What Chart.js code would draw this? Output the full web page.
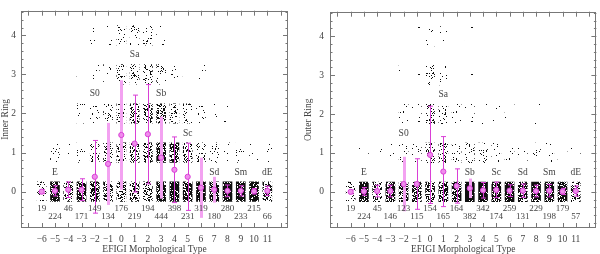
<!DOCTYPE html>
<html><head><meta charset="utf-8">
<script src="https://cdn.jsdelivr.net/npm/chart.js@4/dist/chart.umd.min.js"></script>
<style>
html,body{margin:0;padding:0;background:#fff;}
#wrap{position:relative;width:600px;height:254px;overflow:hidden;}
.c{position:absolute;top:0;width:300px;height:254px;}
</style></head><body>
<div id="wrap">
<div class="c" style="left:0"><canvas id="cL" width="300" height="254"></canvas></div>
<div class="c" style="left:300px"><canvas id="cR" width="300" height="254"></canvas></div>
</div>
<script>
// ---------------- DATA ----------------
const types = [-6,-5,-4,-3,-2,-1,0,1,2,3,4,5,6,7,8,9,10,11];
const ringValues = [0,1,2,3,4];
const yTickValues = [0,1,2,3,4];

// Inner ring: number of galaxies per type for each ring value
const innerRing0 = [19,220,44,160,115,78,52,75,55,195,228,165,292,172,275,229,214,65];
const innerRing1 = [0,4,2,5,20,30,45,60,50,150,128,52,22,7,4,4,1,1];
const innerRing2 = [0,0,0,4,8,16,40,48,45,72,36,12,4,1,1,0,0,0];
const innerRing3 = [0,0,0,2,3,6,25,24,28,21,6,2,1,0,0,0,0,0];
const innerRing4 = [0,0,0,0,3,4,14,12,16,6,0,0,0,0,0,0,0,0];
const innerTotals = [19,224,46,171,149,134,176,219,194,444,398,231,319,180,280,233,215,66];
const innerMean = [0,0.02,0.05,0.05,0.38,0.71,1.45,1.23,1.47,0.87,0.56,0.38,0.10,0.05,0.02,0.02,0.01,0.02];
const innerSD   = [0.05,0.13,0.2,0.28,0.93,1.05,1.4,1.24,1.27,1.05,0.84,0.86,0.77,0.33,0.15,0.13,0.07,0.12];

// Outer ring
const outerRing0 = [19,223,44,144,108,100,80,110,145,355,330,166,253,127,225,193,178,56];
const outerRing1 = [0,1,1,2,8,8,30,30,14,20,10,7,5,4,3,5,1,1];
const outerRing2 = [0,0,0,0,4,5,25,18,5,5,2,1,1,0,1,0,0,0];
const outerRing3 = [0,0,0,0,2,1,15,5,0,1,0,0,0,0,0,0,0,0];
const outerRing4 = [0,0,0,0,1,1,4,2,0,1,0,0,0,0,0,0,0,0];
const outerTotals = [19,224,45,146,123,115,154,165,164,382,342,174,259,131,229,198,179,57];
const outerMean = [0,0.01,0.02,0.02,0.2,0.2,0.95,0.52,0.15,0.09,0.04,0.05,0.03,0.03,0.02,0.03,0.01,0.02];
const outerSD   = [0.05,0.1,0.15,0.15,0.7,0.65,1.25,0.9,0.44,0.25,0.2,0.2,0.15,0.17,0.15,0.16,0.08,0.13];

// Morphological class labels
const morphNames = ['E','S0','Sa','Sb','Sc','Sd','Sm','dE'];
const morphTypes = [-5,-2,1,3,5,7,9,11];
const innerMorphRing = [0.5,2.5,3.5,2.5,1.5,0.5,0.5,0.5];
const outerMorphRing = [0.5,1.5,2.5,0.5,0.5,0.5,0.5,0.5];

// ---------------- STYLE ----------------
const FONT = "'Liberation Serif', 'DejaVu Serif', serif";
const TXT = '#444';
const FRAME = '#777';
const PINK = '#f3a2f1';
const MAG = '#d93fd6';
const innerThick = [-1,0,3,6,7];
const outerThick = [-2,3];

// deterministic dither texture for the point clouds
function hash(i){ let h = Math.imul(i ^ 0x5bd1e995, 0x27d4eb2d); h ^= h>>>15; h = Math.imul(h, 0x85ebca6b); h ^= h>>>13; return h>>>0; }
const patCache = {};
const TW = 53, TH = 47;
const pixOrder = [...Array(TW*TH).keys()].sort((a,b)=>hash(a+7)-hash(b+7));
function cloudPattern(n){
  const f = 1 - Math.exp(-n*1.3/180);
  const lvl = Math.max(1, Math.round(f*96));
  if (patCache[lvl]) return patCache[lvl];
  const c = document.createElement('canvas'); c.width = TW; c.height = TH;
  const g = c.getContext('2d');
  const img = g.createImageData(TW,TH);
  const k = Math.max(1, Math.round(lvl/96*TW*TH));
  for (let i=0;i<k;i++){ const p = pixOrder[i]*4; img.data[p]=img.data[p+1]=img.data[p+2]=15; img.data[p+3]=255; }
  g.putImageData(img,0,0);
  return patCache[lvl] = g.createPattern(c,'repeat');
}
function fmt(v){ return v < 0 ? '\u2212' + Math.abs(v) : String(v); }

function makeChart(id, rings, totals, means, sds, thick, morphRing, yTitle, yW, titlePad, labPad, padL, padR){
  const cloud = [];
  ringValues.forEach((r,ri)=>rings[ri].forEach((n,ti)=>{ if(n>0) cloud.push({x:types[ti], y:[r-0.25, r+0.25], n}); }));
  const meanPts = types.map((t,i)=>({x:t, y:means[i]}));
  const deco = {
    id:'deco',
    afterDatasetDraw(chart, args){
      if (args.index !== 0) return;
      const {ctx, scales:{x,y}} = chart;
      ctx.save();
      types.forEach((t,i)=>{
        const px = Math.round(x.getPixelForValue(t)) + 0.5;
        const y0 = y.getPixelForValue(means[i]-sds[i]), y1 = y.getPixelForValue(means[i]+sds[i]);
        ctx.beginPath();
        if (thick.includes(t)) {
          ctx.strokeStyle = PINK; ctx.lineWidth = 3;
          ctx.moveTo(px,y0); ctx.lineTo(px,y1); ctx.stroke();
        } else {
          ctx.strokeStyle = MAG; ctx.lineWidth = 1;
          ctx.moveTo(px,y0); ctx.lineTo(px,y1);
          ctx.moveTo(px-2.5,y0); ctx.lineTo(px+2.5,y0);
          ctx.moveTo(px-2.5,y1); ctx.lineTo(px+2.5,y1);
          ctx.stroke();
        }
      });
      ctx.restore();
    },
    afterDraw(chart){
      const {ctx, chartArea:a, scales:{x,y}} = chart;
      ctx.save();
      ctx.strokeStyle = FRAME; ctx.lineWidth = 1;
      ctx.strokeRect(Math.round(a.left)+0.5, Math.round(a.top)+0.5, Math.round(a.right-a.left)-1, Math.round(a.bottom-a.top)-1);
      ctx.beginPath();
      for (let v=-7; v<=12; v++){
        const px = Math.round(x.getPixelForValue(v))+0.5;
        ctx.moveTo(px,a.bottom); ctx.lineTo(px,a.bottom-5);
        ctx.moveTo(px,a.top); ctx.lineTo(px,a.top+5);
      }
      for (let k=-4; k<=23; k++){
        const v = k*0.2; if (v < y.min || v > y.max) continue;
        const py = Math.round(y.getPixelForValue(v))+0.5;
        const L = (k%5===0) ? 5 : 2.5;
        ctx.moveTo(a.left,py); ctx.lineTo(a.left+L,py);
        ctx.moveTo(a.right,py); ctx.lineTo(a.right-L,py);
      }
      ctx.stroke();
      ctx.fillStyle = TXT;
      ctx.font = "9px " + FONT;
      ctx.textAlign = 'center'; ctx.textBaseline = 'middle';
      types.forEach((t,i)=>{
        const yy = (i%2===0) ? -0.43 : -0.64;
        ctx.fillText(String(totals[i]), x.getPixelForValue(t), y.getPixelForValue(yy));
      });
      ctx.font = "9.5px " + FONT;
      morphNames.forEach((m,i)=>{
        ctx.fillText(m, x.getPixelForValue(morphTypes[i]), y.getPixelForValue(morphRing[i]));
      });
      ctx.restore();
    }
  };
  return new Chart(document.getElementById(id), {
    type:'scatter',
    data:{ datasets:[
      { type:'bar', data:cloud, order:3, grouped:false, barThickness:9,
        backgroundColor: c => (c.raw ? cloudPattern(c.raw.n) : '#000'), borderWidth:0 },
      { type:'scatter', data:meanPts, order:1, pointRadius:2.6, pointHoverRadius:2.6,
        backgroundColor:'#ef8cec', borderColor:MAG, borderWidth:1 }
    ]},
    options:{
      responsive:false, animation:false, events:[],
      layout:{ padding:{ top:2, right:padR, left:padL, bottom:0 } },
      plugins:{ legend:{display:false}, tooltip:{enabled:false} },
      scales:{
        x:{ type:'linear', min:-7, max:12,
          afterBuildTicks: s => { s.ticks = types.map(v=>({value:v})); },
          afterFit: s => { s.height = 26; },
          grid:{ display:false, drawTicks:false }, border:{ display:false },
          ticks:{ autoSkip:false, maxRotation:0, padding:6, color:TXT, font:{ family:FONT, size:9.5, lineHeight:1.2 }, callback: v => fmt(v) },
          title:{ display:true, text:'EFIGI Morphological Type', color:TXT, font:{ family:FONT, size:9.5, lineHeight:1.2 }, padding:{ top:0, bottom:-1 } }
        },
        y:{ type:'linear', min:-0.93, max:4.63,
          afterBuildTicks: s => { s.ticks = yTickValues.map(v=>({value:v})); },
          afterFit: s => { s.width = yW; },
          grid:{ display:false, drawTicks:false }, border:{ display:false },
          ticks:{ padding:labPad, color:TXT, font:{ family:FONT, size:9.5, lineHeight:1.2 }, callback: v => String(v) },
          title:{ display:true, text:yTitle, color:TXT, font:{ family:FONT, size:9.5, lineHeight:1.2 }, padding:{ top:titlePad, bottom:0 } }
        }
      }
    },
    plugins:[deco]
  });
}

makeChart('cL', [innerRing0,innerRing1,innerRing2,innerRing3,innerRing4], innerTotals, innerMean, innerSD, innerThick, innerMorphRing, 'Inner Ring', 21, 0, 5, 0, 12);
makeChart('cR', [outerRing0,outerRing1,outerRing2,outerRing3,outerRing4], outerTotals, outerMean, outerSD, outerThick, outerMorphRing, 'Outer Ring', 30, 3, 6, 0, 2);
</script>
</body></html>
